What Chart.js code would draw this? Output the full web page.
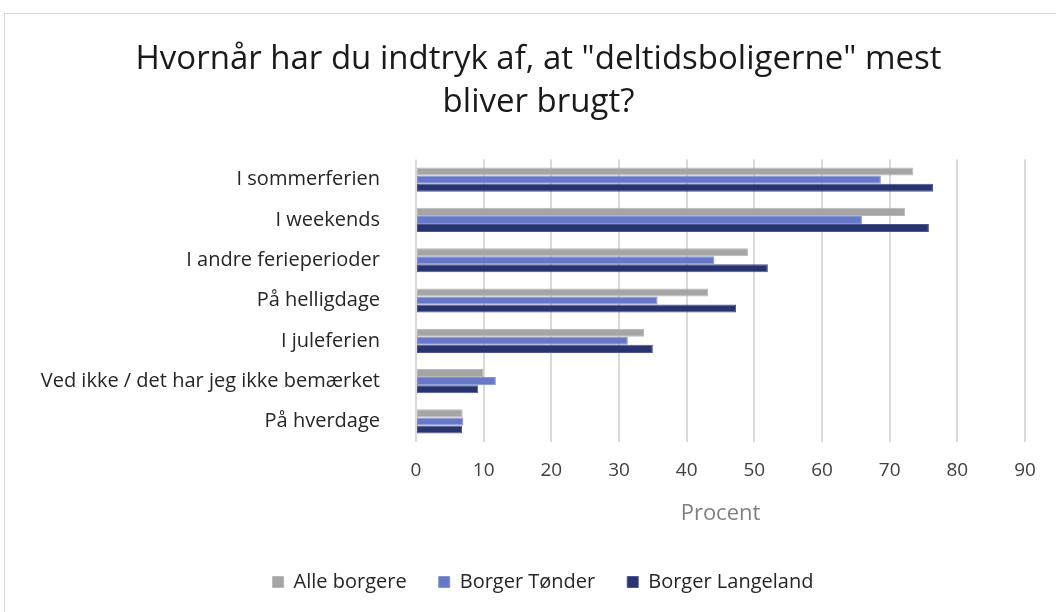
<!DOCTYPE html>
<html>
<head>
<meta charset="utf-8">
<script src="https://cdn.jsdelivr.net/npm/chart.js@4"></script>
<style>
  body { margin: 0; background: #fff; }
  #wrap { position: relative; width: 1056px; height: 612px; overflow: hidden; }
  #frame { position: absolute; left: 4px; top: 13px; width: 1100px; height: 700px; border: 1px solid #d9d9d9; }
  canvas { position: absolute; left: 0; top: 0; }
</style>
</head>
<body>
<div id="wrap">
  <div id="frame"></div>
  <canvas id="chart" width="1056" height="612"></canvas>
</div>
<script>
// Categories, top to bottom
const categories = [
  'I sommerferien',
  'I weekends',
  'I andre ferieperioder',
  'På helligdage',
  'I juleferien',
  'Ved ikke / det har jeg ikke bemærket',
  'På hverdage'
];

const alleBorgere     = [73.5, 72.3, 49.1, 43.2, 33.7, 10.0, 6.9];
const borgerToender   = [68.7, 65.9, 44.1, 35.7, 31.3, 11.8, 7.0];
const borgerLangeland = [76.4, 75.8, 52.0, 47.3, 35.0, 9.2, 6.8];

const xTicks = [0, 10, 20, 30, 40, 50, 60, 70, 80, 90];

const fontFamily = '"Open Sans", Lato, sans-serif';

const makeSet = (label, data, color, border) => ({
  label: label,
  data: data,
  backgroundColor: color,
  borderColor: border,
  borderWidth: 1,
  borderSkipped: false,
  categoryPercentage: 0.6,
  barPercentage: 1.0
});

// Title and legend sit a bit right of the canvas centre, like the original
const shiftBlocks = {
  id: 'shiftBlocks',
  afterLayout(chart) {
    if (chart.titleBlock) chart.titleBlock.left = 52;
    if (chart.legend) chart.legend.left = 61;
  }
};

new Chart(document.getElementById('chart'), {
  type: 'bar',
  data: {
    labels: categories,
    datasets: [
      makeSet('Alle borgere', alleBorgere, '#a5a5a5', '#b8b8b8'),
      makeSet('Borger Tønder', borgerToender, '#6878c8', '#8592d4'),
      makeSet('Borger Langeland', borgerLangeland, '#283470', '#4b5590')
    ]
  },
  plugins: [shiftBlocks],
  options: {
    indexAxis: 'y',
    responsive: false,
    animation: false,
    layout: { padding: { left: 20, right: 31, top: 14, bottom: 10 } },
    plugins: {
      title: {
        display: true,
        text: ['Hvornår har du indtryk af, at "deltidsboligerne" mest', 'bliver brugt?'],
        color: '#1a1a1a',
        font: { family: fontFamily, size: 33, weight: 'normal', lineHeight: 1.31 },
        padding: { top: 24, bottom: 35 }
      },
      legend: {
        position: 'bottom',
        labels: {
          color: '#262626',
          font: { family: fontFamily, size: 20 },
          boxWidth: 11,
          boxHeight: 11,
          padding: 32
        }
      },
      tooltip: { enabled: false }
    },
    scales: {
      x: {
        min: 0,
        max: 90,
        afterBuildTicks: (axis) => { axis.ticks = xTicks.map(v => ({ value: v })); },
        grid: { color: '#d9d9d9', lineWidth: 2, drawTicks: false },
        border: { display: false },
        ticks: {
          color: '#404040',
          font: { family: fontFamily, size: 19, lineHeight: 1.0 },
          padding: 19
        },
        title: {
          display: true,
          text: 'Procent',
          color: '#808080',
          font: { family: fontFamily, size: 22 },
          padding: { top: 2, bottom: 13 }
        }
      },
      y: {
        afterFit: (axis) => { axis.width = 396; },
        grid: { display: false },
        border: { display: false },
        ticks: {
          color: '#262626',
          font: { family: fontFamily, size: 20 },
          padding: 28
        }
      }
    }
  }
});
</script>
</body>
</html>
